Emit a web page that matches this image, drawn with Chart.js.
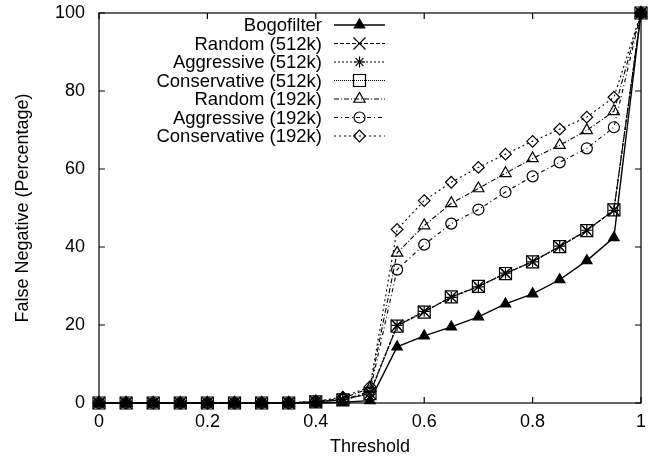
<!DOCTYPE html>
<html>
<head>
<meta charset="utf-8">
<script src="https://cdn.jsdelivr.net/npm/chart.js@4/dist/chart.umd.min.js"></script>
<style>
  html, body { margin: 0; padding: 0; background: #fff; }
  #wrap { width: 652px; height: 462px; position: relative; }
</style>
</head>
<body>
<div id="wrap"><canvas id="c" width="652" height="462"></canvas></div>
<script>
const thresholds = [0, 0.05, 0.1, 0.15, 0.2, 0.25, 0.3, 0.35, 0.4, 0.45, 0.5, 0.55, 0.6, 0.65, 0.7, 0.75, 0.8, 0.85, 0.9, 0.95, 1];
const bogofilter      = [0,0,0,0,0,0,0,0,0,0.2,0.6,14.4,17.2,19.5,22.1,25.4,28.0,31.6,36.5,42.4,100];
const random512       = [0,0,0,0,0,0,0,0,0.3,0.8,2.5,19.8,23.4,27.2,29.9,33.2,36.3,40.1,44.2,49.5,100];
const aggressive512   = [0,0,0,0,0,0,0,0,0.3,0.9,2.7,19.9,23.5,27.1,29.8,33.3,36.2,40.2,44.3,49.4,100];
const conservative512 = [0,0,0,0,0,0,0,0,0.3,0.8,2.4,19.7,23.3,27.2,29.9,33.2,36.2,40.1,44.2,49.5,100];
const random192       = [0,0,0,0,0,0,0,0,0.4,1.2,3.8,38.5,45.5,51.2,55.0,58.9,62.7,66.1,69.9,74.8,100];
const aggressive192   = [0,0,0,0,0,0,0,0,0.3,0.8,3.0,34.2,40.6,46.0,49.6,54.1,58.1,61.7,65.3,70.7,100];
const conservative192 = [0,0,0,0,0,0,0,0,0.4,1.5,4.2,44.5,51.9,56.6,60.4,63.8,67.1,70.2,73.3,78.4,100];
const seriesLabels = ["Bogofilter", "Random (512k)", "Aggressive (512k)", "Conservative (512k)", "Random (192k)", "Aggressive (192k)", "Conservative (192k)"];
const xTickValues = [0, 0.2, 0.4, 0.6, 0.8, 1];
const yTickValues = [0, 20, 40, 60, 80, 100];

const FONT = "'Liberation Sans', Arial, Helvetica, sans-serif";

function pts(arr) { return arr.map((v, i) => ({ x: thresholds[i], y: v })); }

const styles = [
  { pointStyle: 'triangle', pointRadius: 6,   fill: '#000', dash: [],           lw: 1.4 },
  { pointStyle: 'crossRot', pointRadius: 8.5, fill: 'rgba(0,0,0,0)', dash: [4, 2], lw: 1.1 },
  { pointStyle: 'star',     pointRadius: 5.5, fill: 'rgba(0,0,0,0)', dash: [2, 2], lw: 1.1 },
  { pointStyle: 'rect',     pointRadius: 8.5, fill: 'rgba(0,0,0,0)', dash: [1, 1], lw: 1.1 },
  { pointStyle: 'triangle', pointRadius: 6.5, fill: 'rgba(0,0,0,0)', dash: [5, 2, 1, 2], lw: 1.1 },
  { pointStyle: 'circle',   pointRadius: 5.5, fill: 'rgba(0,0,0,0)', dash: [4, 3, 1, 3], lw: 1.1 },
  { pointStyle: 'rectRot',  pointRadius: 5.8, fill: 'rgba(0,0,0,0)', dash: [2, 3], lw: 1.1 }
];
const seriesData = [bogofilter, random512, aggressive512, conservative512, random192, aggressive192, conservative192];

const datasets = seriesData.map((arr, i) => ({
  label: seriesLabels[i],
  data: pts(arr),
  borderColor: '#000',
  backgroundColor: styles[i].fill,
  borderWidth: styles[i].lw,
  borderDash: styles[i].dash,
  pointStyle: styles[i].pointStyle,
  pointRadius: styles[i].pointRadius,
  pointBorderWidth: 1.2,
  pointBorderColor: '#000',
  pointBackgroundColor: styles[i].fill,
  tension: 0,
  clip: false,
  fill: false
}));

const framePlugin = {
  id: 'frame',
  beforeDatasetsDraw(chart) {
    const { ctx, chartArea: a, scales } = chart;
    ctx.save();
    ctx.strokeStyle = '#000';
    ctx.lineWidth = 1.2;
    ctx.setLineDash([]);
    ctx.strokeRect(a.left, a.top, a.right - a.left, a.bottom - a.top);
    const L = 6;
    ctx.beginPath();
    xTickValues.forEach(v => {
      const x = scales.x.getPixelForValue(v);
      ctx.moveTo(x, a.bottom); ctx.lineTo(x, a.bottom - L);
      ctx.moveTo(x, a.top); ctx.lineTo(x, a.top + L);
    });
    yTickValues.forEach(v => {
      const y = scales.y.getPixelForValue(v);
      ctx.moveTo(a.left, y); ctx.lineTo(a.left + L, y);
      ctx.moveTo(a.right, y); ctx.lineTo(a.right - L, y);
    });
    ctx.stroke();
    ctx.restore();
  }
};

const legendPlugin = {
  id: 'keybox',
  afterDatasetsDraw(chart) {
    const { ctx } = chart;
    const textRight = 322, lineL = 334, lineR = 385, top = 25, step = 18.5;
    ctx.save();
    ctx.font = '18.5px ' + FONT;
    ctx.textAlign = 'right';
    ctx.textBaseline = 'middle';
    chart.data.datasets.forEach((ds, i) => {
      const y = top + i * step;
      ctx.fillStyle = '#000';
      ctx.fillText(ds.label, textRight, y + 1);
      ctx.strokeStyle = '#000';
      ctx.lineWidth = ds.borderWidth;
      ctx.setLineDash(ds.borderDash || []);
      ctx.beginPath();
      ctx.moveTo(lineL, y); ctx.lineTo(lineR, y);
      ctx.stroke();
      ctx.setLineDash([]);
      ctx.lineWidth = ds.pointBorderWidth;
      ctx.fillStyle = ds.pointBackgroundColor;
      Chart.helpers.drawPoint(ctx, { pointStyle: ds.pointStyle, radius: ds.pointRadius, rotation: 0, borderWidth: ds.pointBorderWidth }, (lineL + lineR) / 2, y);
    });
    ctx.restore();
  }
};

new Chart(document.getElementById('c'), {
  type: 'line',
  data: { datasets },
  options: {
    responsive: false,
    animation: false,
    devicePixelRatio: 1,
    layout: { padding: { top: 13, right: 11, left: 0, bottom: 0 } },
    plugins: { legend: { display: false }, tooltip: { enabled: false } },
    scales: {
      x: {
        type: 'linear', min: 0, max: 1,
        grid: { display: false, drawTicks: false },
        border: { display: false },
        afterBuildTicks(s) { s.ticks = xTickValues.map(v => ({ value: v })); },
        ticks: {
          color: '#000', padding: 8, maxRotation: 0, autoSkip: false,
          font: { family: FONT, size: 18 },
          callback: v => String(Number(v.toFixed(1)))
        },
        title: { display: true, text: 'Threshold', color: '#000', font: { family: FONT, size: 18 }, padding: { top: 0, bottom: 4 } },
        afterFit(s) { s.height = 59; s.paddingLeft = 0; s.paddingRight = 0; }
      },
      y: {
        type: 'linear', min: 0, max: 100,
        grid: { display: false, drawTicks: false },
        border: { display: false },
        afterBuildTicks(s) { s.ticks = yTickValues.map(v => ({ value: v })); },
        ticks: { color: '#000', padding: 14, autoSkip: false, font: { family: FONT, size: 18 } },
        title: { display: true, text: 'False Negative (Percentage)', color: '#000', font: { family: FONT, size: 18 }, padding: { top: 12, bottom: 0 } },
        afterFit(s) { s.width = 99; s.paddingTop = 0; s.paddingBottom = 0; }
      }
    }
  },
  plugins: [framePlugin, legendPlugin]
});
</script>
</body>
</html>
